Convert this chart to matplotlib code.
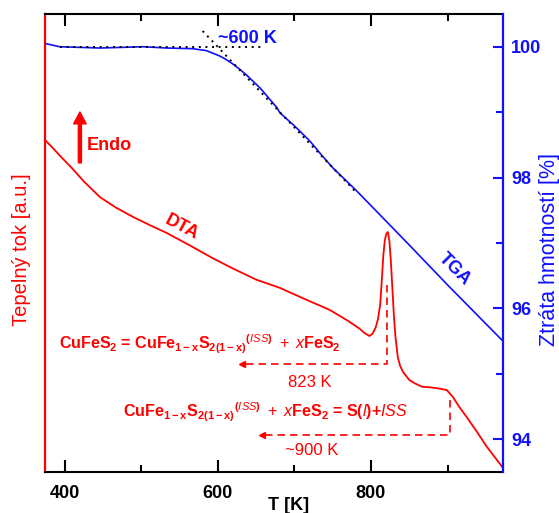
import matplotlib
matplotlib.use("Agg")
import matplotlib.pyplot as plt

plt.rcParams['font.family'] = ['Liberation Sans', 'DejaVu Sans']
plt.rcParams['mathtext.fontset'] = 'custom'
plt.rcParams['mathtext.rm'] = 'Liberation Sans:bold'
plt.rcParams['mathtext.bf'] = 'Liberation Sans:bold'
plt.rcParams['mathtext.it'] = 'Liberation Sans:italic'
plt.rcParams['mathtext.sf'] = 'Liberation Sans'
plt.rcParams['mathtext.default'] = 'rm'

# TGA curve, mass [%]
tga_T = [374, 393, 446, 502, 533, 567, 585, 602, 610, 619, 628, 638, 646, 655,
         666, 677, 681, 700, 720, 735, 750, 781, 850, 900, 972.5]
tga = [100.05, 100.0, 99.98, 100.0, 99.98, 99.97, 99.94, 99.86, 99.81, 99.74,
       99.66, 99.56, 99.47, 99.37, 99.22, 99.07, 98.99, 98.79, 98.56, 98.35,
       98.15, 97.80, 96.97, 96.36, 95.50]

# DTA curve, heat flow [a.u.]
dta_T = [374, 385, 395, 410, 425, 446, 467, 489, 511, 533, 563, 593, 620, 650,
         681, 713, 746, 770, 785, 792, 798, 802, 806, 809, 812, 814, 816, 818,
         820, 822, 824, 826, 828, 830, 832, 835, 838, 842, 850, 858, 867, 877,
         890, 899, 907, 915, 925, 938, 951, 962, 972.5]
dta = [72.5, 70.6, 68.8, 66.2, 63.4, 60.0, 57.7, 55.7, 53.9, 52.2, 49.5, 46.7,
       44.4, 42.0, 40.2, 37.8, 35.4, 33.0, 31.3, 30.3, 29.7, 30.2, 31.5, 33.3,
       36.5, 41.5, 47.0, 50.5, 52.0, 52.4, 50.5, 46.0, 40.0, 34.0, 29.5, 25.1,
       23.2, 21.8, 20.1, 19.3, 18.6, 18.5, 18.2, 17.9, 16.4, 14.3, 12.0, 8.9,
       5.6, 3.2, 0.9]

# tangent construction for the onset (~600 K)
base_T = [393, 658]
base_m = [100.0, 100.0]
tan_T = [580, 781]
tan_m = [100.24, 97.77]

red = '#ff0000'
blue = '#1010ff'

fig = plt.figure(figsize=(5.59, 5.13), dpi=100)
ax = fig.add_axes([0.0805, 0.0799, 0.8193, 0.8928])
ax2 = ax.twinx()

ax.plot(dta_T, dta, color=red, lw=1.3)
ax2.plot(tga_T, tga, color=blue, lw=1.2)
ax2.plot(base_T, base_m, color='k', lw=1.4, ls=(0, (1, 2.4)))
ax2.plot(tan_T, tan_m, color='k', lw=1.4, ls=(0, (1, 2.4)))

ax.set_xlim(374, 972.5)
ax.set_ylim(0, 100)
ax2.set_ylim(93.5, 100.5)

# x axis
ax.set_xticks([400, 600, 800])
ax.set_xticks([500, 700, 900], minor=True)
ax.tick_params(axis='x', which='both', direction='in', top=True, width=1.5,
               pad=9, labelsize=13)
ax.tick_params(axis='x', which='major', length=8.5)
ax.tick_params(axis='x', which='minor', length=5)
for lab in ax.get_xticklabels():
    lab.set_fontweight('bold')
ax.set_yticks([])

# right axis
ax2.set_yticks([94, 96, 98, 100])
ax2.set_yticks([95, 97, 99], minor=True)
ax2.tick_params(axis='y', which='both', direction='in', width=1.5, color=blue,
                labelcolor=blue, labelsize=13, pad=6)
ax2.tick_params(axis='y', which='major', length=7.5)
ax2.tick_params(axis='y', which='minor', length=5)
for lab in ax2.get_yticklabels():
    lab.set_fontweight('bold')

for s in ['top', 'bottom']:
    ax.spines[s].set_linewidth(1.5)
    ax2.spines[s].set_visible(False)
ax.spines['left'].set_color(red)
ax.spines['left'].set_linewidth(1.6)
ax.spines['right'].set_visible(False)
ax2.spines['left'].set_visible(False)
ax2.spines['right'].set_color(blue)
ax2.spines['right'].set_linewidth(1.6)

fig.text(22 / 559, 0.5136, 'Tepelný tok [a.u.]', color=red, fontsize=14.5,
         rotation=90, ha='center', va='center')
fig.text(549 / 559, 0.5127, 'Ztráta hmotností [%]', color=blue, fontsize=15.5,
         rotation=90, ha='center', va='center')
fig.text(289 / 559, 0.006, 'T [K]', fontsize=13, fontweight='bold',
         ha='center', va='baseline')

# annotations
ax.annotate('', xy=(419.6, 78.6), xytext=(419.6, 67.5),
            arrowprops=dict(facecolor=red, edgecolor=red, width=2.2,
                            headwidth=9, headlength=8.5, shrink=0))
ax.text(428.8, 71.2, 'Endo', color=red, fontsize=13, fontweight='bold',
        ha='left', va='center')
ax.text(553, 53.3, 'DTA', color=red, fontsize=13, fontweight='bold',
        rotation=-28, ha='center', va='center')
ax2.text(909, 96.6, 'TGA', color=blue, fontsize=13, fontweight='bold',
         rotation=-45, ha='center', va='center')
ax2.text(600, 100.12, '~600 K', color=blue, fontsize=13, fontweight='bold',
         ha='left', va='center')

eq1 = (r'CuFeS$_2$ = CuFe$_{1-x}$S$_{2(1-x)}$$^{\mathit{(ISS)}}$'
       r'$\mathsf{\ +\ }\mathit{x}$FeS$_2$')
eq2 = (r'CuFe$_{1-x}$S$_{2(1-x)}$$^{\mathit{(ISS)}}$'
       r'$\mathsf{\ +\ }\mathit{x}$FeS$_2$ = S($\mathit{l}$)+$\mathit{ISS}$')
ax.text(392, 26.9, eq1, color=red, fontsize=11.5, fontweight='bold',
        ha='left', va='baseline')
ax.text(475.7, 12.0, eq2, color=red, fontsize=11.5, fontweight='bold',
        ha='left', va='baseline')
ax.text(720, 18.6, '823 K', color=red, fontsize=12, ha='center', va='baseline')
ax.text(722, 3.7, '~900 K', color=red, fontsize=12, ha='center', va='baseline')

dash = (0, (4.5, 3))
ax.plot([821, 821, 632], [40.8, 23.5, 23.5], color=red, lw=1.2, ls=dash)
ax.plot([632], [23.5], marker='<', ms=5, color=red)
ax.plot([903, 903, 657], [15.7, 8.1, 8.1], color=red, lw=1.2, ls=dash)
ax.plot([657], [8.1], marker='<', ms=5, color=red)

fig.savefig('out.png', dpi=100)
